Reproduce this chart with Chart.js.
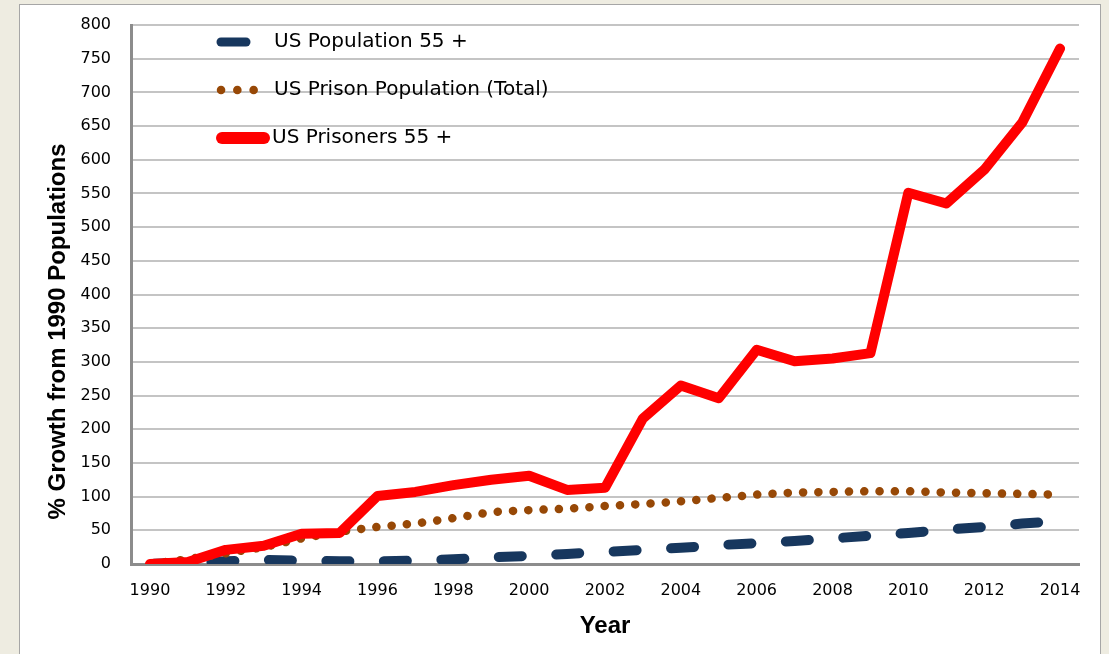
<!DOCTYPE html>
<html lang="en">
<head>
    <meta charset="UTF-8">
    <title>% Growth from 1990 Populations</title>
    <script src="https://cdn.jsdelivr.net/npm/chart.js"></script>
    <style>
        html, body {
            margin: 0;
            padding: 0;
            background-color: #eeece1;
            overflow: hidden;
        }
        .panel {
            position: absolute;
            left: 19px;
            top: 4px;
            width: 1080px;
            height: 680px;
            background-color: #ffffff;
            border: 1px solid #a6a6a6;
        }
        canvas { display: block; }
    </style>
</head>
<body>
    <div class="panel">
        <canvas id="growthChart" width="1080" height="649"></canvas>
    </div>

    <script>
        // Datos
        const years = ['1990', '1991', '1992', '1993', '1994', '1995', '1996', '1997', '1998', '1999',
                       '2000', '2001', '2002', '2003', '2004', '2005', '2006', '2007', '2008', '2009',
                       '2010', '2011', '2012', '2013', '2014'];
        const usPopulation55 = [0, 2, 4, 6, 5, 4, 4, 5, 7, 10, 12, 15, 18, 21, 24, 28, 31, 34, 38, 42, 46, 51, 55, 60, 64];
        const prisonTotal = [0, 7, 16, 25, 38, 48, 55, 60, 68, 77, 80, 82, 86, 89, 93, 98, 103, 106, 107, 108, 108, 106, 105, 104, 103];
        const prisoners55 = [0, 3, 21, 27, 45, 46, 101, 107, 117, 125, 131, 110, 113, 216, 265, 246, 318, 301, 305, 313, 551, 535, 585, 655, 765];
        const seriesNames = ['US Population 55 +', 'US Prison Population (Total)', 'US Prisoners 55 +'];
        const yTitle = '% Growth from 1990 Populations';

        // Leyenda dibujada a mano dentro del área del gráfico
        const insideLegend = {
            id: 'insideLegend',
            afterDatasetsDraw(chart) {
                const ctx = chart.ctx;
                const left = chart.chartArea.left;
                const top = chart.chartArea.top;
                ctx.save();
                chart.data.datasets.forEach((ds, i) => {
                    const y = top + 17 + i * 48;
                    const x0 = left + 85;
                    ctx.strokeStyle = ds.borderColor;
                    ctx.lineCap = 'round';
                    ctx.beginPath();
                    if (i === 0) {
                        ctx.lineWidth = 9;
                        ctx.setLineDash([]);
                        ctx.moveTo(x0 + 5, y);
                        ctx.lineTo(x0 + 30, y);
                    } else if (i === 1) {
                        ctx.lineWidth = 8.5;
                        ctx.setLineDash([0.1, 16.2]);
                        ctx.moveTo(x0 + 5, y);
                        ctx.lineTo(x0 + 38, y);
                    } else {
                        ctx.lineWidth = 12;
                        ctx.setLineDash([]);
                        ctx.moveTo(x0 + 6, y);
                        ctx.lineTo(x0 + 48, y);
                    }
                    ctx.stroke();
                    ctx.setLineDash([]);
                    ctx.fillStyle = '#000';
                    ctx.font = '20px "DejaVu Sans"';
                    ctx.textBaseline = 'middle';
                    ctx.textAlign = 'left';
                    ctx.fillText(ds.label, i === 2 ? x0 + 56 : x0 + 58, y);
                });
                ctx.restore();
            }
        };

        // Título del eje Y, algo desplazado hacia abajo como en el original
        const yAxisTitle = {
            id: 'yAxisTitle',
            afterDraw(chart) {
                const ctx = chart.ctx;
                const area = chart.chartArea;
                ctx.save();
                ctx.translate(45, (area.top + area.bottom) / 2 + 37);
                ctx.rotate(-Math.PI / 2);
                ctx.fillStyle = '#000';
                ctx.font = 'bold 24px "Liberation Sans"';
                ctx.textAlign = 'center';
                ctx.textBaseline = 'alphabetic';
                ctx.fillText(yTitle, 0, 0);
                ctx.restore();
            }
        };

        Chart.defaults.color = '#000';

        const ctx = document.getElementById('growthChart').getContext('2d');
        const growthChart = new Chart(ctx, {
            type: 'line',
            data: {
                labels: years,
                datasets: [{
                    label: seriesNames[0],
                    data: usPopulation55,
                    borderColor: '#17375e',
                    borderWidth: 10,
                    borderDash: [23, 34.5],
                    borderDashOffset: -4,
                    borderCapStyle: 'round',
                    pointRadius: 0,
                    tension: 0,
                    order: 3
                }, {
                    label: seriesNames[1],
                    data: prisonTotal,
                    borderColor: '#974806',
                    borderWidth: 8.5,
                    borderDash: [0.1, 15.2],
                    borderCapStyle: 'round',
                    pointRadius: 0,
                    tension: 0,
                    order: 2
                }, {
                    label: seriesNames[2],
                    data: prisoners55,
                    borderColor: '#ff0000',
                    borderWidth: 10,
                    borderCapStyle: 'round',
                    borderJoinStyle: 'round',
                    pointRadius: 0,
                    tension: 0,
                    order: 1
                }]
            },
            options: {
                responsive: false,
                animation: false,
                layout: {
                    padding: { top: 20, right: 21, left: 0, bottom: 0 }
                },
                plugins: {
                    legend: { display: false },
                    tooltip: { enabled: false }
                },
                scales: {
                    x: {
                        offset: true,
                        afterFit: (scale) => {
                            scale.height = 90;
                            scale.paddingLeft = 0;
                            scale.paddingRight = 0;
                        },
                        grid: { display: false, drawTicks: false },
                        border: { color: '#8c8c8c', width: 3 },
                        ticks: {
                            autoSkip: false,
                            maxRotation: 0,
                            padding: 17,
                            font: { family: 'DejaVu Sans', size: 16 },
                            callback: function (value, index) {
                                return index % 2 === 0 ? this.getLabelForValue(value) : '';
                            }
                        },
                        title: {
                            display: true,
                            text: 'Year',
                            font: { family: 'Liberation Sans', size: 24, weight: 'bold' },
                            padding: { top: 0, bottom: 13 }
                        }
                    },
                    y: {
                        min: 0,
                        max: 800,
                        afterFit: (scale) => {
                            scale.width = 111;
                            scale.paddingTop = 0;
                            scale.paddingBottom = 0;
                        },
                        grid: { color: '#c4c4c4', lineWidth: 2, drawTicks: false },
                        border: { color: '#8c8c8c', width: 3 },
                        ticks: {
                            stepSize: 50,
                            padding: 20,
                            font: { family: 'DejaVu Sans', size: 16 }
                        }
                    }
                }
            },
            plugins: [insideLegend, yAxisTitle]
        });
    </script>
</body>
</html>
